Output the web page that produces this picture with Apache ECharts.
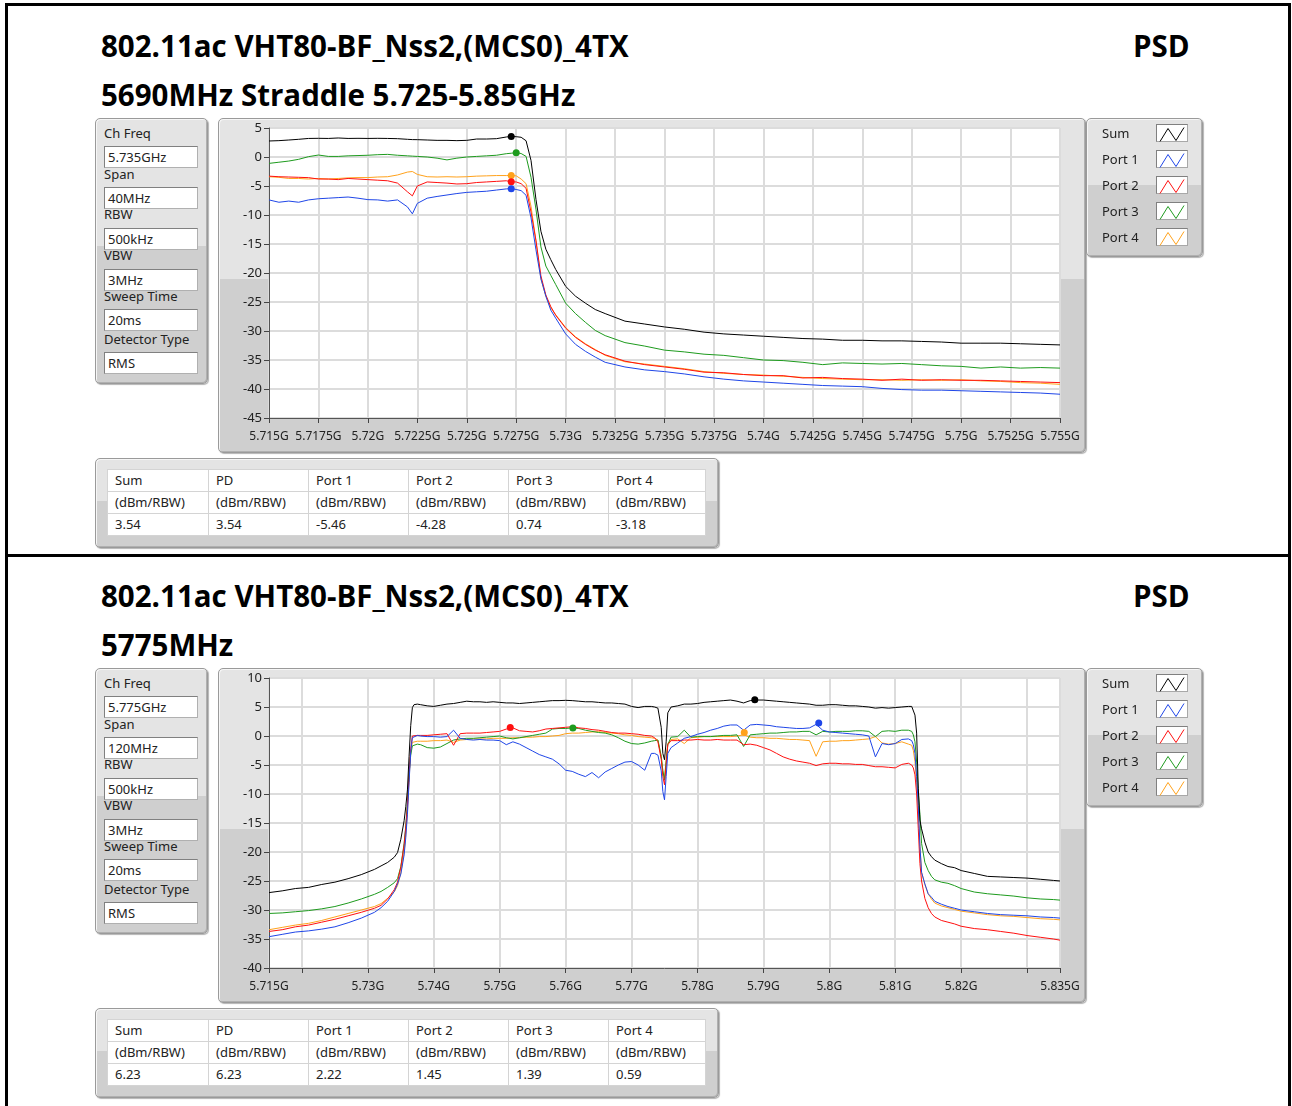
<!DOCTYPE html>
<html>
<head>
<meta charset="utf-8">
<title>802.11ac VHT80 PSD</title>
<script src="https://cdn.jsdelivr.net/npm/echarts@6/dist/echarts.min.js"></script>
<style>
  body { margin: 0; background: #fff; font-family: 'Noto Sans', sans-serif; color: #222; }
  #page { position: absolute; left: 0; top: 0; width: 1292px; height: 1106px; overflow: hidden; }
  #main { position: absolute; left: 0; top: 0; width: 1292px; height: 1106px; z-index: 2; }
  .frame { position: absolute; background: #000; }
  .title { position: absolute; font-family: 'Open Sans', sans-serif; font-weight: 700; font-size: 29.5px; line-height: 30px; color: #000; white-space: nowrap; }
  .panel { position: absolute; box-sizing: border-box; border: 1px solid #9a9a9a; border-radius: 5px;
           background: linear-gradient(#e4e4e4 0, #e4e4e4 48%, #cfcfcf 48%, #cfcfcf 100%);
           box-shadow: 1px 1px 1px #b4b4b4, inset 1px 1px 0 #f6f6f6, inset -1px -1px 0 #b0b0b0; }
  .lbl { position: absolute; font-size: 13px; line-height: 16px; white-space: nowrap; color: #222; }
  .box { position: absolute; box-sizing: border-box; background: #fff; border: 1px solid #b0b0b0;
         border-top-color: #808080; border-left-color: #808080; font-size: 13px; line-height: 20px; padding-left: 3px; }
  .swatch { position: absolute; box-sizing: border-box; width: 32px; height: 18px; background: #fff;
            border: 1px solid #a8a8a8; border-top-color: #808080; border-left-color: #808080; }
  table.res { position: absolute; left: 107px; width: 598px; border-collapse: collapse; table-layout: fixed;
              background: #fff; border: 1px solid #9c9c9c; font-size: 13px; }
  table.res td { height: 22px; box-sizing: border-box; padding: 0 0 0 7px; border: 1px solid #d4d4d4; line-height: 19px; white-space: nowrap; }
</style>
</head>
<body>
<div id="page"></div>
<div id="main"></div>
<script>
// ---- top plot: 5690MHz straddle, freq in MHz ----
var topFreq = [5715, 5715.5, 5716, 5716.5, 5717, 5717.5, 5718, 5718.5, 5719, 5719.5, 5720, 5720.5, 5721, 5721.5, 5722, 5722.25, 5722.5, 5723, 5723.5, 5724, 5724.5, 5725, 5725.5, 5726, 5726.5, 5727, 5727.25, 5727.5,
  5727.75, 5728, 5728.25, 5728.5, 5728.75, 5729, 5729.25, 5729.5, 5730, 5730.5, 5731, 5731.5, 5732,
  5733, 5734, 5735, 5736, 5737, 5738, 5739, 5740, 5741, 5742, 5743, 5744, 5745, 5746, 5747, 5748, 5749, 5750, 5751, 5752, 5753, 5754, 5755];
var topSum = [2.76, 2.82, 2.93, 3.05, 3.2, 3.22, 3.2, 3.28, 3.2, 3.22, 3.2, 3.22, 3.2, 3.16, 3.05, 3.0, 2.99, 2.93, 2.87, 2.87, 2.82, 2.87, 3.1, 3.1, 3.16, 3.45, 3.54, 3.5,
  3.4, 2.8, -0.6, -7.3, -12.8, -15.9, -17.7, -19.4, -22.3, -24.0, -25.2, -26.3, -27.0,
  -28.3, -28.8, -29.3, -29.7, -30.2, -30.5, -30.7, -30.9, -31.1, -31.3, -31.4, -31.6, -31.6, -31.7, -31.7, -31.8, -31.9, -32.1, -32.1, -32.1, -32.2, -32.3, -32.4];
var topPort1 = [-7.4, -7.8, -7.6, -7.8, -7.4, -7.2, -7.1, -7.0, -6.9, -7.1, -7.35, -7.4, -7.6, -7.4, -8.6, -9.8, -8.0, -7.1, -6.8, -6.55, -6.3, -6.1, -6.0, -5.9, -5.7, -5.5, -5.46, -5.6,
  -5.8, -6.6, -10.5, -16.0, -21.0, -24.0, -26.4, -27.8, -30.5, -32.3, -33.5, -34.5, -35.4,
  -36.2, -36.7, -37.0, -37.4, -37.9, -38.3, -38.6, -38.8, -39.0, -39.2, -39.4, -39.5, -39.6, -39.9, -40.1, -40.2, -40.2, -40.3, -40.4, -40.5, -40.6, -40.7, -40.9];
var topPort2 = [-3.3, -3.4, -3.45, -3.5, -3.56, -3.8, -3.8, -3.9, -3.7, -3.8, -3.9, -4.0, -4.1, -4.5, -6.0, -6.7, -5.0, -4.3, -4.4, -4.5, -4.65, -4.6, -4.4, -4.3, -4.2, -4.1, -4.28, -4.3,
  -4.6, -5.4, -9.5, -14.4, -20.5, -23.8, -25.8, -27.3, -29.5, -31.1, -32.3, -33.3, -34.1,
  -35.2, -35.8, -36.2, -36.6, -37.1, -37.2, -37.5, -37.7, -37.7, -38.1, -38.0, -38.2, -38.3, -38.5, -38.3, -38.5, -38.4, -38.5, -38.5, -38.6, -38.7, -38.8, -38.9];
var topPort3 = [-1.1, -0.9, -0.7, -0.4, 0.06, 0.34, 0.1, 0.1, 0.2, 0.25, 0.3, 0.4, 0.45, 0.3, 0.2, 0.15, 0.1, 0.0, -0.2, -0.5, -0.2, 0.0, 0.1, 0.2, 0.3, 0.57, 0.65, 0.74,
  0.6, 0.1, -3.5, -9.0, -15.5, -18.8, -20.4, -22.0, -25.2, -27.0, -28.5, -29.9, -30.8,
  -32.0, -32.6, -33.3, -33.6, -34.0, -34.2, -34.6, -35.0, -35.1, -35.4, -35.8, -35.5, -35.6, -35.7, -35.6, -35.8, -36.0, -36.1, -36.4, -36.2, -36.4, -36.3, -36.4];
var topPort4 = [-3.4, -3.5, -3.7, -3.7, -3.8, -3.7, -3.8, -3.7, -3.6, -3.55, -3.55, -3.45, -3.4, -3.1, -2.6, -2.5, -3.0, -3.4, -3.45, -3.4, -3.45, -3.4, -3.3, -3.25, -3.2, -3.2, -3.18, -3.25,
  -3.8, -4.6, -8.5, -14.5, -21.0, -24.0, -26.0, -27.2, -29.4, -31.0, -32.2, -33.2, -34.2,
  -35.3, -35.7, -36.1, -36.5, -37.0, -37.3, -37.5, -37.6, -37.8, -38.0, -38.2, -38.3, -38.4, -38.4, -38.5, -38.4, -38.5, -38.4, -38.6, -38.7, -38.9, -39.0, -39.2];
// peak markers: Sum, Port 1..4
var topPeakFreq = [5727.25, 5727.25, 5727.25, 5727.5, 5727.25];
var topPeakVal = [3.54, -5.46, -4.28, 0.74, -3.18];

// ---- bottom plot: 5775MHz ----
var botFreq = [5715, 5717, 5719, 5721, 5723, 5725, 5727, 5729, 5731, 5732, 5733, 5734, 5734.5, 5735, 5735.5, 5735.75, 5736, 5736.25, 5736.5, 5736.75, 5737, 5737.5, 5738,
  5739, 5740, 5741, 5742, 5743, 5744, 5745, 5746, 5747, 5748, 5749, 5750, 5751, 5752, 5753, 5754, 5755, 5756, 5757, 5758, 5759, 5760, 5761, 5762, 5763, 5764, 5765, 5766, 5767, 5768, 5769, 5770, 5771, 5772, 5773,
  5773.5, 5774, 5774.5, 5774.75, 5775, 5775.25, 5775.5, 5776,
  5777, 5778, 5779, 5780, 5781, 5782, 5783, 5784, 5785, 5786, 5787, 5788, 5789, 5790, 5791, 5792, 5793, 5794, 5795, 5796, 5797, 5798, 5799, 5800, 5801, 5802, 5803, 5804, 5805, 5806, 5807, 5808, 5809, 5810, 5811, 5812,
  5812.5, 5812.75, 5813, 5813.25, 5813.5, 5813.75, 5814, 5814.5, 5815, 5815.5, 5816, 5817, 5818, 5819, 5820, 5822, 5824, 5826, 5828, 5830, 5832, 5834, 5835];
var botSum = [-27.0, -26.7, -26.3, -26.1, -25.6, -25.2, -24.6, -23.9, -23.0, -22.4, -21.8, -20.9, -20.1, -17.8, -14.6, -12.2, -9.3, -3.5, 1.8, 4.9, 5.4, 5.5, 5.4,
  5.2, 5.1, 5.3, 5.5, 5.6, 5.8, 6.0, 5.9, 5.9, 5.8, 5.9, 5.8, 5.7, 5.7, 5.6, 5.7, 5.8, 5.9, 6.0, 6.1, 6.1, 6.15, 6.1, 6.0, 5.9, 5.9, 5.8, 5.7, 5.7, 5.6, 5.5, 5.1, 4.9, 5.1, 5.1,
  5.0, 4.8, 1.5, -3.0, -4.1, -1.0, 4.0, 5.0,
  5.2, 5.5, 5.5, 5.6, 5.8, 5.9, 6.0, 6.1, 6.2, 6.0, 5.7, 6.1, 6.2, 6.2, 6.1, 6.0, 5.9, 5.8, 5.7, 5.6, 5.5, 5.3, 5.3, 5.4, 5.4, 5.3, 5.2, 5.2, 5.1, 5.0, 4.8, 4.9, 4.8, 4.9, 5.0, 5.1,
  5.1, 4.8, 3.6, 0.5, -9.0, -14.5, -16.0, -18.3, -20.0, -20.8, -21.4, -22.0, -22.5, -22.7, -23.2, -23.7, -24.2, -24.3, -24.4, -24.5, -24.7, -24.9, -25.0];
var botPort1 = [-34.6, -34.2, -33.8, -33.6, -33.3, -32.9, -32.2, -31.4, -30.4, -29.6, -28.5, -26.8, -25.5, -23.8, -20.5, -17.5, -13.5, -8.0, -2.7, -0.3, 0.0, 0.1, 0.0,
  -0.1, -0.1, -0.2, -0.1, 1.0, -0.4, -0.6, -0.7, -0.6, -0.7, -0.7, -0.8, -1.5, -1.0, -1.4, -2.0, -2.6, -3.2, -3.6, -4.0, -4.8, -5.9, -6.1, -6.6, -7.0, -6.3, -7.2, -6.2, -5.6, -5.0, -4.5, -4.4, -5.0, -5.9, -3.0,
  -3.0, -3.3, -6.0, -9.6, -11.0, -7.0, -3.0, -2.0,
  -1.2, -0.4, -0.1, 0.3, 0.6, 1.0, 1.3, 1.7, 1.9, 1.9, 1.0, 1.9, 2.0, 1.9, 1.8, 1.6, 1.5, 1.4, 1.3, 1.3, 1.4, 2.0, 1.0, 0.7, 0.6, 0.5, 0.4, 0.3, 0.2, 0.0, -3.6, -1.3, -1.5, -1.3, -0.6, -0.5,
  -0.8, -1.5, -3.0, -7.0, -12.0, -19.0, -23.5, -25.5, -27.2, -27.8, -28.5, -29.0, -29.4, -29.7, -30.0, -30.3, -30.6, -30.8, -30.9, -31.0, -31.2, -31.3, -31.4];
var botPort2 = [-33.7, -33.4, -32.9, -32.6, -32.1, -31.6, -31.0, -30.4, -29.7, -29.2, -28.1, -26.5, -25.2, -22.6, -18.8, -15.8, -12.1, -6.8, -2.2, 0.0, 0.2, 0.1, 0.1,
  0.1, 0.2, 0.3, 0.4, -1.6, 0.4, 0.5, 0.5, 0.5, 0.6, 0.7, 0.8, 1.2, 1.4, 0.9, 0.8, 0.7, 0.9, 1.2, 1.3, 1.4, 1.5, 1.6, 1.4, 1.3, 1.1, 1.0, 0.8, 0.6, 0.5, 0.5, 0.4, 0.3, 0.1, 0.0,
  -0.3, -1.0, -4.0, -7.0, -8.4, -5.0, -1.5, -0.8,
  -0.8, -0.7, -0.7, -0.6, -0.7, -0.7, -0.6, -0.7, -0.7, -0.7, -1.5, -1.4, -1.6, -2.0, -2.4, -3.0, -3.6, -4.0, -4.3, -4.5, -4.7, -5.1, -4.8, -4.7, -4.7, -4.8, -4.8, -4.9, -4.9, -5.1, -5.3, -5.3, -5.4, -5.5, -4.9, -4.7,
  -5.0, -5.5, -6.7, -10.0, -16.0, -22.0, -25.0, -28.0, -29.6, -30.6, -31.2, -31.8, -32.1, -32.4, -32.8, -33.2, -33.4, -33.7, -34.0, -34.4, -34.7, -35.0, -35.2];
var botPort3 = [-30.6, -30.5, -30.3, -30.1, -29.8, -29.4, -28.8, -28.1, -27.3, -26.8, -26.1, -25.3, -24.6, -22.5, -18.5, -15.5, -11.5, -6.5, -3.3, -1.7, -1.4, -1.4, -1.5,
  -2.0, -2.1, -1.9, -1.3, -0.7, -0.5, -0.4, -0.4, -0.3, -0.2, -0.1, 0.0, -0.3, -0.5, -0.3, -0.1, 0.1, 0.3, 0.5, 1.2, 1.3, 1.3, 1.39, 1.3, 1.0, 0.8, 0.6, 0.5, 0.2, -0.3, -0.9, -1.3, -1.4, -1.2, -0.9,
  -0.8, -0.7, -3.5, -6.0, -7.6, -4.5, -1.5, -0.2,
  -0.1, 1.0, -0.2, -0.1, -0.1, -0.1, 0.0, 0.1, 0.1, 0.2, -1.8, 0.2, 0.3, 0.4, 0.5, 0.5, 0.6, 0.7, 0.7, 0.8, 0.8, 0.2, 0.8, 0.7, 0.8, 0.8, 0.8, 0.9, 0.9, 0.8, -0.1, 0.8, 0.9, 0.8, 1.0, 1.0,
  0.8, 0.2, -1.0, -4.5, -9.6, -13.5, -18.5, -21.8, -23.2, -24.2, -24.8, -25.2, -25.4, -25.8, -26.3, -26.9, -27.2, -27.4, -27.6, -27.9, -28.1, -28.2, -28.3];
var botPort4 = [-33.4, -33.0, -32.6, -32.3, -31.8, -31.2, -30.6, -30.0, -29.4, -28.9, -28.0, -26.9, -25.8, -23.6, -20.0, -17.0, -13.0, -7.5, -2.6, -1.1, -0.9, -0.9, -0.9,
  -0.9, -0.8, -0.8, -0.7, -1.1, -0.7, -0.6, -0.5, -0.5, -0.5, -0.4, -0.4, -0.4, -0.3, -0.3, -0.2, -0.2, -0.1, -0.1, 0.0, 0.1, 0.4, 0.5, 0.5, 0.6, 0.7, 0.75, 0.6, 0.5, 0.4, 0.2, 0.1, -0.1, -0.2, -0.3,
  -0.4, -0.7, -3.5, -6.0, -7.3, -4.0, -1.3, -0.6,
  -0.5, -1.3, -0.3, -0.2, -0.1, -0.1, -0.1, -0.1, -0.1, 0.0, 0.2, -0.2, -0.3, -0.3, -0.4, -0.4, -0.5, -0.6, -0.6, -0.7, -0.8, -3.5, -1.0, -0.9, -0.9, -0.8, -0.8, -0.7, -0.6, -0.5, -0.1, -1.2, -1.4, -1.3, -1.0, -1.4,
  -1.6, -2.5, -4.4, -8.0, -12.5, -19.0, -23.5, -25.6, -27.2, -28.1, -28.8, -29.3, -29.6, -29.9, -30.2, -30.5, -30.8, -31.0, -31.1, -31.3, -31.5, -31.6, -31.7];
var botPeakFreq = [5788.7, 5798.4, 5751.6, 5761.1, 5787.1];
var botPeakVal = [6.23, 2.22, 1.45, 1.39, 0.59];

// axis tick labels (bottom plot uses custom positions)
var botXLabels = [5715, 5730, 5740, 5750, 5760, 5770, 5780, 5790, 5800, 5810, 5820, 5835];
var botXTicks = [5715, 5720, 5730, 5740, 5750, 5760, 5770, 5780, 5790, 5800, 5810, 5820, 5830, 5835];

var portNames = ['Sum', 'Port 1', 'Port 2', 'Port 3', 'Port 4'];
var portColors = ['#000000', '#1f46e8', '#ff1010', '#1e9b1e', '#ffa21c'];
var paramNames = ['Ch Freq', 'Span', 'RBW', 'VBW', 'Sweep Time', 'Detector Type'];
var topParams = ['5.735GHz', '40MHz', '500kHz', '3MHz', '20ms', 'RMS'];
var botParams = ['5.775GHz', '120MHz', '500kHz', '3MHz', '20ms', 'RMS'];
var tableHeads = ['Sum', 'PD', 'Port 1', 'Port 2', 'Port 3', 'Port 4'];

// ---------- static panels (html) ----------
var page = document.getElementById('page');
function el(cls, css, text) {
  var d = document.createElement('div');
  d.className = cls;
  d.style.cssText = css;
  if (text != null) d.textContent = text;
  page.appendChild(d);
  return d;
}
function px(l, t, w, h) {
  return 'left:' + l + 'px;top:' + t + 'px;' + (w ? 'width:' + w + 'px;' : '') + (h ? 'height:' + h + 'px;' : '');
}

el('frame', px(5, 3, 1286, 3));
el('frame', px(5, 3, 3, 1103));
el('frame', px(1288, 3, 3, 1103));
el('frame', px(5, 554, 1286, 3));

var labelY = [133, 174, 214, 255, 296, 339];
var boxY = [146, 187, 228, 269, 309, 352];
var colW = [101, 100, 100, 100, 100, 97];

function section(dy, subtitle, params, peaks) {
  el('title', px(101, 31 + dy), '802.11ac VHT80-BF_Nss2,(MCS0)_4TX');
  el('title', px(1133, 31 + dy), 'PSD');
  el('title', px(101, 80 + dy), subtitle);

  // settings panel
  el('panel', px(95, 118 + dy, 113, 266));
  paramNames.forEach(function (n, i) {
    el('box', px(104, boxY[i] + dy, 94, 22), params[i]);
    el('lbl', px(104, labelY[i] - 8 + dy), n);
  });

  // plot + legend panels
  el('panel', px(218, 118 + dy, 868, 335));
  el('panel', px(1086, 118 + dy, 117, 139));
  for (var k = 0; k < 5; k++) el('swatch', px(1156, 124 + k * 26 + dy));

  // result table
  el('panel', px(95, 458 + dy, 624, 90));
  var t = document.createElement('table');
  t.className = 'res';
  t.style.top = (469 + dy) + 'px';
  var vals = [peaks[0], peaks[0], peaks[1], peaks[2], peaks[3], peaks[4]].map(function (v) { return v.toFixed(2); });
  var rows = [tableHeads, tableHeads.map(function () { return '(dBm/RBW)'; }), vals];
  rows.forEach(function (r) {
    var tr = t.insertRow();
    r.forEach(function (c, i) {
      var td = tr.insertCell();
      td.textContent = c;
      td.style.width = colW[i] + 'px';
    });
  });
  page.appendChild(t);
}
section(0, '5690MHz Straddle 5.725-5.85GHz', topParams, topPeakVal);
section(550, '5775MHz', botParams, botPeakVal);

// ---------- charts ----------
var myChart = echarts.init(document.getElementById('main'));

var fontFam = "'Noto Sans', sans-serif";
var drawOrder = [4, 3, 2, 1, 0];   // Sum drawn last (on top)

function pairs(freq, vals) {
  return freq.map(function (f, i) { return [f, vals[i]]; });
}
function freqLabel(v) {
  return +(v / 1000).toFixed(4) + 'G';
}
function buildSeries(idx, freq, sets, peakF, peakV) {
  return drawOrder.map(function (k) {
    return {
      name: portNames[k],
      type: 'line',
      xAxisIndex: idx,
      yAxisIndex: idx,
      data: pairs(freq, sets[k]),
      showSymbol: false,
      symbol: 'none',
      silent: true,
      lineStyle: { color: portColors[k], width: 1 },
      itemStyle: { color: portColors[k] },
      markPoint: {
        symbol: 'circle',
        symbolSize: 7,
        silent: true,
        label: { show: false },
        itemStyle: { color: portColors[k] },
        data: [{ coord: [peakF[k], peakV[k]] }]
      }
    };
  });
}
function xAxisBase(idx, min, max) {
  return {
    gridIndex: idx, type: 'value', min: min, max: max,
    axisLine: { show: true, onZero: false, lineStyle: { color: '#555', width: 1 } },
    axisTick: { show: true, length: 5, lineStyle: { color: '#444' } },
    axisLabel: { margin: 13, fontSize: 12, color: '#222', fontFamily: fontFam, formatter: freqLabel,
                 showMinLabel: true, showMaxLabel: true, hideOverlap: false },
    splitLine: { show: true, lineStyle: { color: '#dcdcdc', width: 2 } }
  };
}
function yAxisBase(idx, min, max) {
  return {
    gridIndex: idx, type: 'value', min: min, max: max, interval: 5,
    axisLine: { show: true, onZero: false, lineStyle: { color: '#555', width: 1 } },
    axisTick: { show: true, length: 5, lineStyle: { color: '#444' } },
    axisLabel: { margin: 7, fontSize: 13, color: '#222', fontFamily: fontFam },
    splitLine: { show: true, lineStyle: { color: '#dcdcdc', width: 2 } }
  };
}
function legendAt(top) {
  return {
    orient: 'vertical', left: 1102, top: top, padding: 0, align: 'right',
    itemWidth: 24, itemHeight: 14, itemGap: 11, selectedMode: false,
    icon: 'path://M0,14L8,1L16,13L24,0',
    data: portNames.map(function (n, k) {
      return { name: n, itemStyle: { color: 'transparent', borderColor: portColors[k], borderWidth: 1 } };
    }),
    formatter: function (name) { return '{n|' + name + '}'; },
    textStyle: { rich: { n: { width: 53, align: 'left', fontSize: 13, lineHeight: 16, color: '#222', fontFamily: fontFam } } }
  };
}

var xTop = xAxisBase(0, 5715, 5755);
xTop.interval = 2.5;
var xBot = xAxisBase(1, 5715, 5835);
xBot.axisLabel.customValues = botXLabels;
xBot.axisTick.customValues = botXTicks;

var option = {
  animation: false,
  grid: [
    { left: 269, top: 128, width: 791, height: 290, show: true, backgroundColor: '#fff', borderColor: '#c4c4c4', borderWidth: 1 },
    { left: 269, top: 678, width: 791, height: 290, show: true, backgroundColor: '#fff', borderColor: '#c4c4c4', borderWidth: 1 }
  ],
  xAxis: [xTop, xBot],
  yAxis: [yAxisBase(0, -45, 5), yAxisBase(1, -40, 10)],
  legend: [legendAt(127), legendAt(677)],
  series: buildSeries(0, topFreq, [topSum, topPort1, topPort2, topPort3, topPort4], topPeakFreq, topPeakVal)
    .concat(buildSeries(1, botFreq, [botSum, botPort1, botPort2, botPort3, botPort4], botPeakFreq, botPeakVal))
};

myChart.setOption(option);
</script>
</body>
</html>
